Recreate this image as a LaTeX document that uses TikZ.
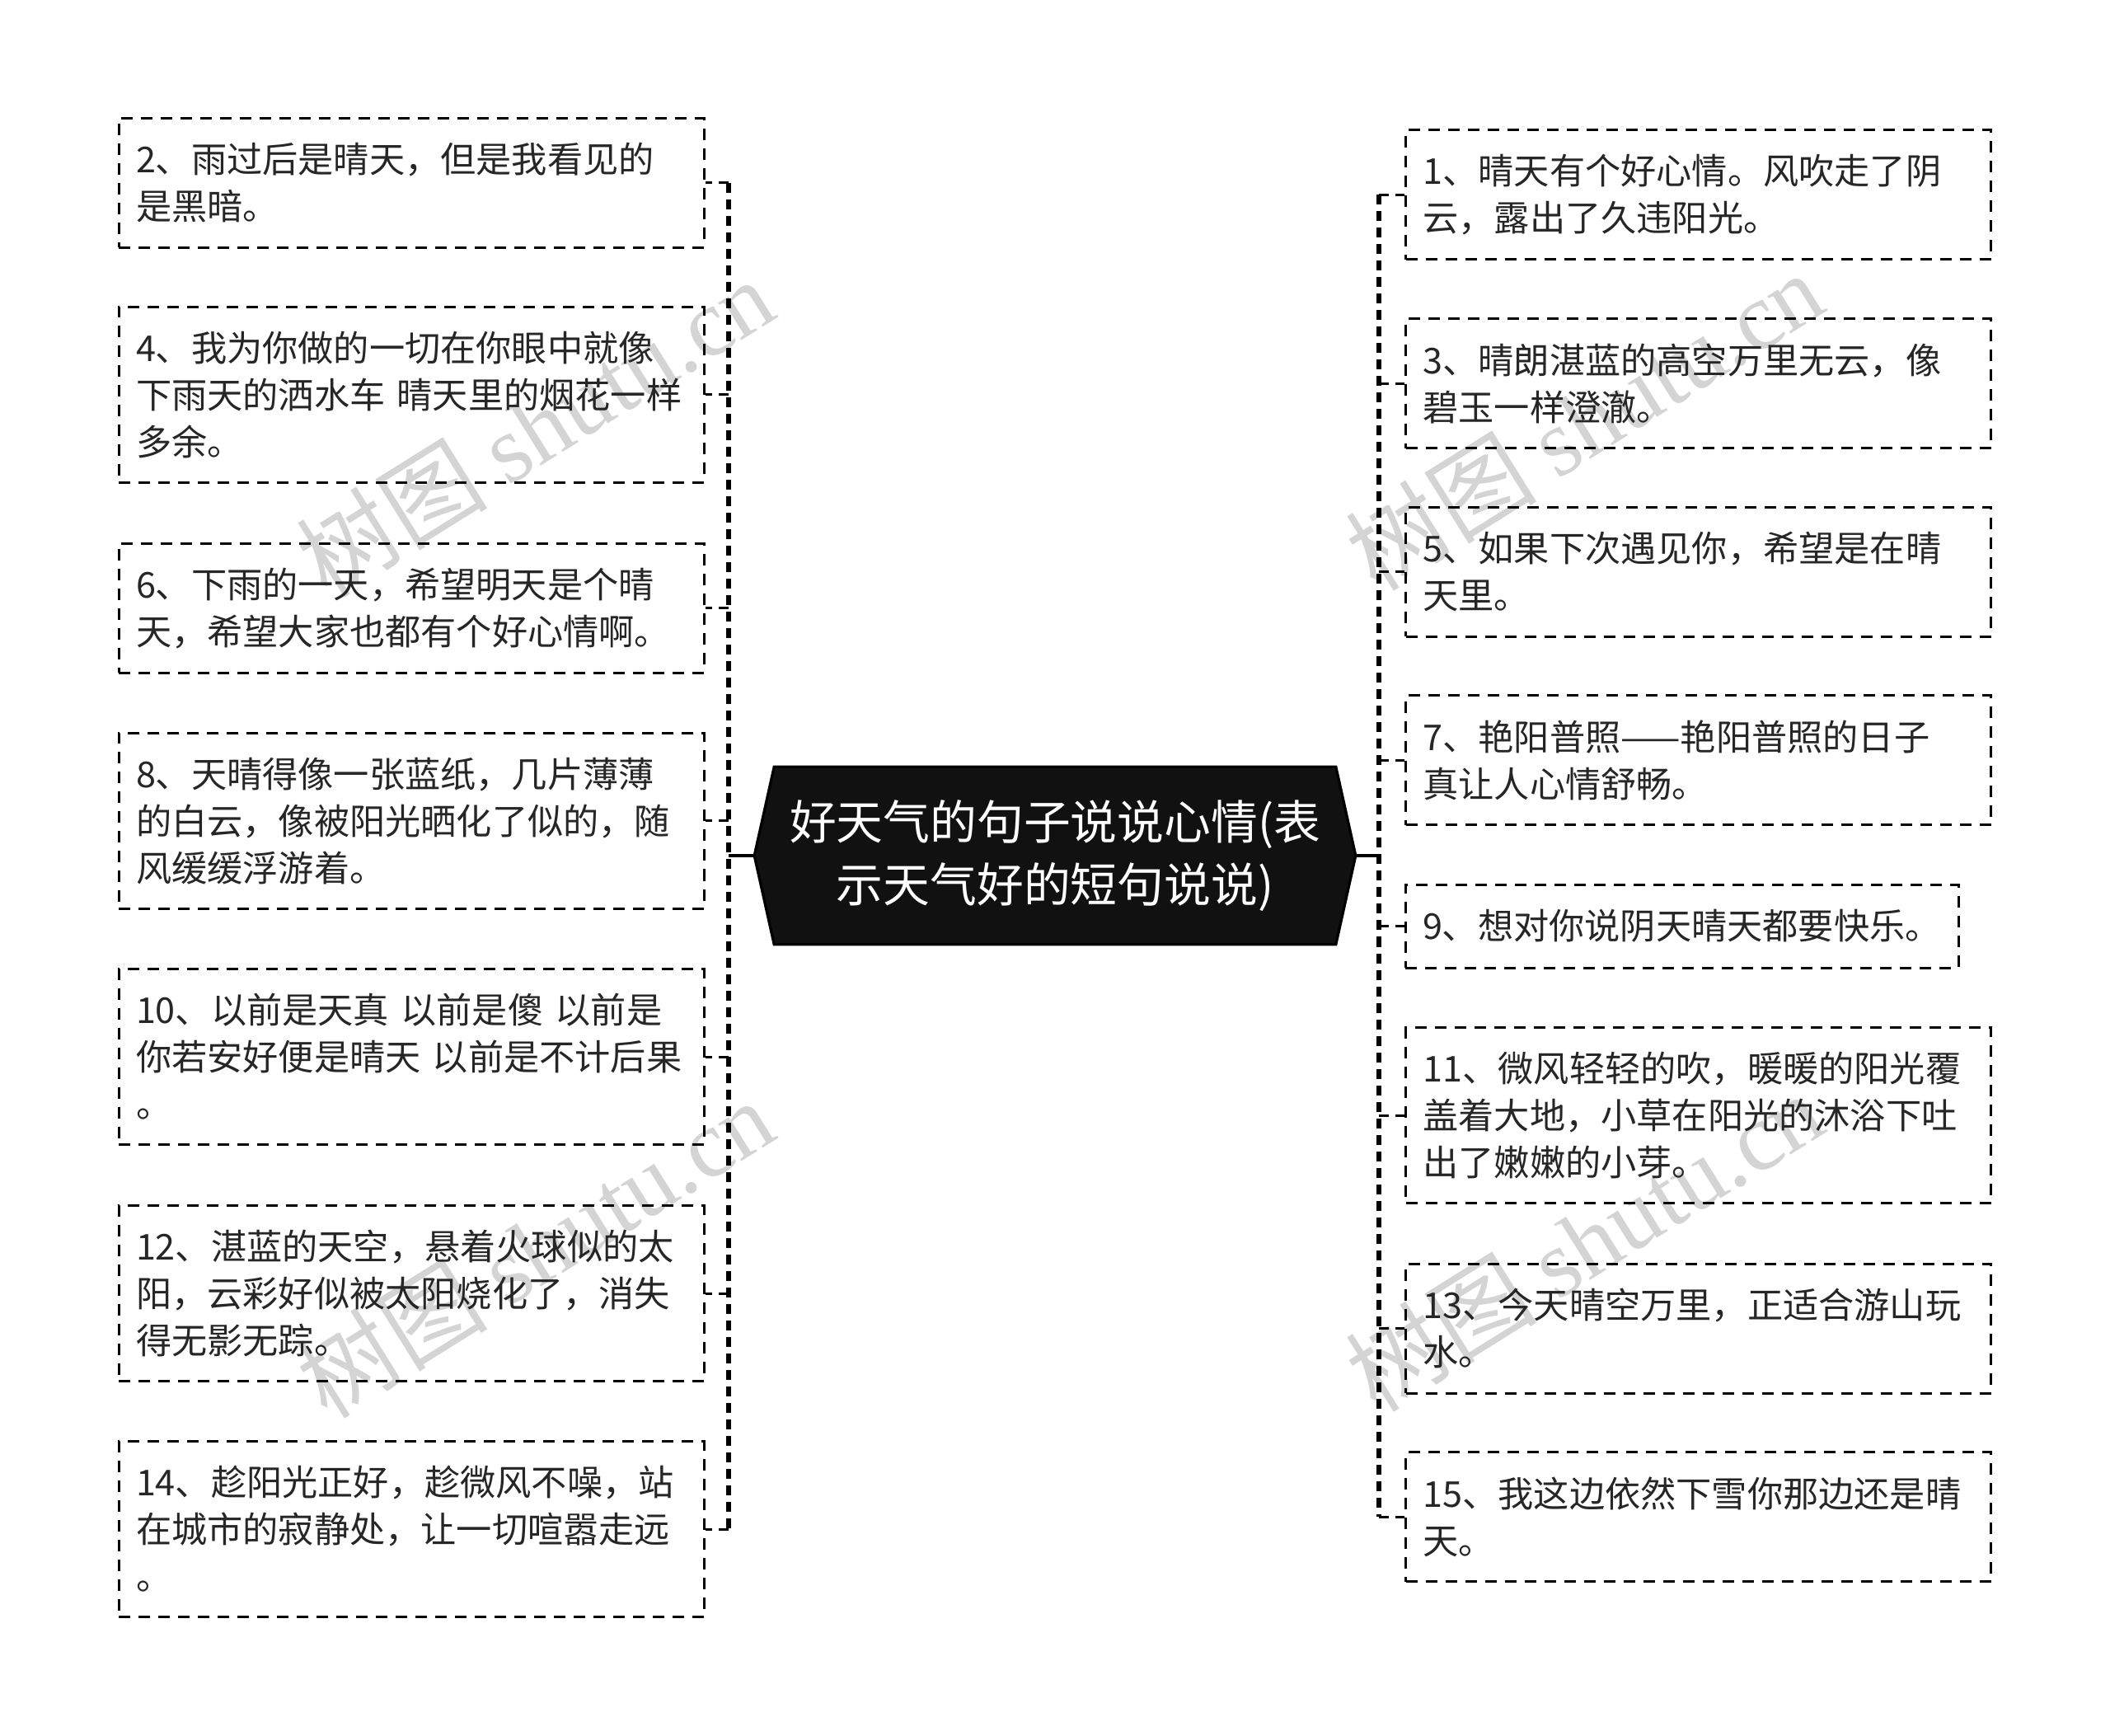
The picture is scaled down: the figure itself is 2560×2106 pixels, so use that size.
\documentclass[tikz,border=0pt]{standalone}
\usepackage{fontspec}
\setmainfont{Noto Sans CJK SC}
\newfontfamily\wmlatin{Liberation Serif}
\usetikzlibrary{backgrounds}
\begin{document}
\begin{tikzpicture}[x=0.25pt,y=-0.25pt,
  tbox/.style={draw=black, line width=0.75pt, dash pattern=on 3.5pt off 2.5pt,
    inner xsep=5.25pt, inner ysep=0pt, text width=167pt, align=left,
    font=\fontsize{10.8pt}{14.25pt}\selectfont, text=black!85},
  two/.style={minimum height=39.25pt},
  three/.style={minimum height=53.25pt},
  one/.style={minimum height=25.25pt},
  stub/.style={draw=black, line width=0.75pt, dash pattern=on 3pt off 2pt},
  trunk/.style={draw=black, line width=1.35pt, dash pattern=on 3pt off 2pt},
  solidc/.style={draw=black, line width=0.8pt},
  wm/.style={text=black!17, font=\fontsize{29pt}{29pt}\selectfont, rotate=32, inner sep=0pt}
]
\useasboundingbox (0,0) rectangle (2560,2106);

% watermarks
\node[wm] (w1) at (649,518) {树图 {\wmlatin shutu.cn}};
\node[wm] (w2) at (649,1514) {树图 {\wmlatin shutu.cn}};
\node[wm] (w3) at (1922,510) {树图 {\wmlatin shutu.cn}};
\node[wm] (w4) at (1922,1506) {树图 {\wmlatin shutu.cn}};

% center
\node[minimum width=182pt, minimum height=53.5pt, inner sep=0pt, align=center,
      text=white, font=\fontsize{14.2pt}{19.2pt}\selectfont] (c) at (1280,1038)
  {好天气的句子说说心情(表\\示天气好的短句说说)};
\begin{scope}[on background layer]
\fill[white] (0,0) rectangle (2560,2106);
\filldraw[fill={rgb,255:red,17;green,17;blue,17}, draw=black, line width=0.8pt, line join=miter]
  ([xshift=6pt]c.north west) -- ([xshift=-6pt]c.north east) -- (c.east)
  -- ([xshift=-6pt]c.south east) -- ([xshift=6pt]c.south west) -- (c.west) -- cycle;
\end{scope}

\coordinate (tL) at (884,1038);
\coordinate (tR) at (1673,1038);

% left boxes
\node[tbox,two]   (b2)  at (499,222)  {2、雨过后是晴天，但是我看见的\\是黑暗。};
\node[tbox,three] (b4)  at (499,479)  {4、我为你做的一切在你眼中就像\\下雨天的洒水车~晴天里的烟花一样\\多余。};
\node[tbox,two]   (b6)  at (499,738)  {6、下雨的一天，希望明天是个晴\\天，希望大家也都有个好心情啊。};
\node[tbox,three] (b8)  at (499,996)  {8、天晴得像一张蓝纸，几片薄薄\\的白云，像被阳光晒化了似的，随\\风缓缓浮游着。};
\node[tbox,three] (b10) at (499,1282) {10、以前是天真~以前是傻~以前是\\你若安好便是晴天~以前是不计后果\\。};
\node[tbox,three] (b12) at (499,1569) {12、湛蓝的天空，悬着火球似的太\\阳，云彩好似被太阳烧化了，消失\\得无影无踪。};
\node[tbox,three] (b14) at (499,1855) {14、趁阳光正好，趁微风不噪，站\\在城市的寂静处，让一切喧嚣走远\\。};

% right boxes
\node[tbox,two]   (b1)  at (2060.5,236.5) {1、晴天有个好心情。风吹走了阴\\云，露出了久违阳光。};
\node[tbox,two]   (b3)  at (2060.5,465.5) {3、晴朗湛蓝的高空万里无云，像\\碧玉一样澄澈。};
\node[tbox,two]   (b5)  at (2060.5,694)   {5、如果下次遇见你，希望是在晴\\天里。};
\node[tbox,two]   (b7)  at (2060.5,922.5) {7、艳阳普照——艳阳普照的日子\\真让人心情舒畅。};
\node[tbox,one,text width=157.25pt] (b9) at (2040.5,1123.5) {9、想对你说阴天晴天都要快乐。};
\node[tbox,three] (b11) at (2060.5,1353)  {11、微风轻轻的吹，暖暖的阳光覆\\盖着大地，小草在阳光的沐浴下吐\\出了嫩嫩的小芽。};
\node[tbox,two]   (b13) at (2060.5,1611.5) {13、今天晴空万里，正适合游山玩\\水。};
\node[tbox,two]   (b15) at (2060.5,1840)  {15、我这边依然下雪你那边还是晴\\天。};

% connectors left
\draw[solidc] (c.west) -- (c.west -| tL);
\draw[trunk] (b2.east -| tL) -- (b14.east -| tL);
\foreach \b in {b2,b4,b6,b8,b10,b12,b14}
  \draw[stub] (\b.east -| tL) -- (\b.east);

% connectors right
\draw[solidc] (c.east) -- (c.east -| tR);
\draw[trunk] (b1.west -| tR) -- (b15.west -| tR);
\foreach \b in {b1,b3,b5,b7,b9,b11,b13,b15}
  \draw[stub] (\b.west -| tR) -- (\b.west);
\end{tikzpicture}
\end{document}
